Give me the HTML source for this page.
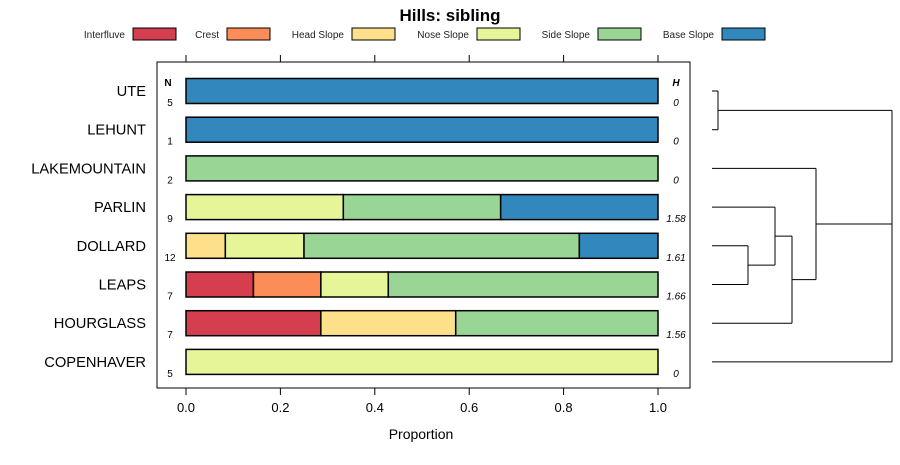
<!DOCTYPE html>
<html><head><meta charset="utf-8"><style>
body{margin:0;background:#fff}
svg text{font-family:"Liberation Sans",sans-serif}
</style></head><body>
<svg id="c" width="900" height="460" xmlns="http://www.w3.org/2000/svg">
<text x="450" y="21" text-anchor="middle" font-size="17" font-weight="bold">Hills: sibling</text>
<g id="legend"></g>
<rect x="157" y="62" width="533" height="326" fill="none" stroke="#000"/>
<g id="bars"></g>
<g id="axis"></g>
<text x="421" y="439" text-anchor="middle" font-size="14">Proportion</text>
<text x="168" y="86" font-size="10" font-weight="bold" text-anchor="middle">N</text>
<text x="676" y="86" font-size="10" font-weight="bold" font-style="italic" text-anchor="middle">H</text>
<g id="dend" stroke="#000" stroke-width="1" fill="none"></g>
</svg>
<script>
const categories=["UTE","LEHUNT","LAKEMOUNTAIN","PARLIN","DOLLARD","LEAPS","HOURGLASS","COPENHAVER"];
const classes=["Interfluve","Crest","Head Slope","Nose Slope","Side Slope","Base Slope"];
const colors=["#D53E4F","#FC8D59","#FEE08B","#E6F598","#99D594","#3288BD"];
const counts=[5,1,2,9,12,7,7,5];
const hValues=["0","0","0","1.58","1.61","1.66","1.56","0"];
const interfluve=[0,0,0,0,0,1/7,2/7,0];
const crest=[0,0,0,0,0,1/7,0,0];
const headSlope=[0,0,0,0,1/12,0,2/7,0];
const noseSlope=[0,0,0,3/9,2/12,1/7,0,1];
const sideSlope=[0,0,1,3/9,7/12,4/7,3/7,0];
const baseSlope=[1,1,0,3/9,2/12,0,0,0];
const series=[interfluve,crest,headSlope,noseSlope,sideSlope,baseSlope];
const ticks=[0,0.2,0.4,0.6,0.8,1.0];
const ns="http://www.w3.org/2000/svg";
const X=v=>186+v*472;
const Y=i=>91+i*38.7;
function mk(t,a,p){const e=document.createElementNS(ns,t);for(const k in a)e.setAttribute(k,a[k]);p.appendChild(e);return e;}
const lg=document.getElementById('legend');
const legX=[133,227,352,477,598,722];
classes.forEach((c,i)=>{
 const t=mk('text',{x:legX[i]-8,y:38,'font-size':10,'text-anchor':'end',fill:'#222'},lg);t.textContent=c;
 
 
 const r=mk('rect',{x:legX[i],y:28,width:43,height:12,fill:colors[i],stroke:'#000'},lg);
 
 
});
const bg=document.getElementById('bars');
categories.forEach((cat,i)=>{
 const y=Y(i);let acc=0;
 series.forEach((s,j)=>{
  const v=s[i];if(v<=0)return;
  const r=mk('rect',{x:X(acc),y:y-12.5,width:X(acc+v)-X(acc),height:25,fill:colors[j],stroke:'#000','stroke-width':1.5},bg);
  
  
  acc+=v;
 });
 const l=mk('text',{x:146,y:y+5,'font-size':14.7,'text-anchor':'end'},bg);l.textContent=cat;
 
 
 const n=mk('text',{x:170,y:y+15,'font-size':10,'text-anchor':'middle'},bg);n.textContent=counts[i];
 
 
 const h=mk('text',{x:676,y:y+15,'font-size':10,'font-style':'italic','text-anchor':'middle'},bg);h.textContent=hValues[i];
 
 
});
const ax=document.getElementById('axis');
ticks.forEach(t=>{
 mk('line',{x1:X(t),x2:X(t),y1:388,y2:395,stroke:'#000'},ax);
 mk('line',{x1:X(t),x2:X(t),y1:62,y2:55,stroke:'#000'},ax);
 const tx=mk('text',{x:X(t),y:412,'font-size':13,'text-anchor':'middle'},ax);tx.textContent=t.toFixed(1);
 
 
});
const d=document.getElementById('dend');
function L(x1,y1,x2,y2){mk('line',{x1,y1,x2,y2},d);}
const y=Y;
L(712,y(0),718,y(0));L(712,y(1),718,y(1));L(718,y(0),718,y(1));
const a=(y(0)+y(1))/2;L(718,a,892,a);
L(712,y(4),748,y(4));L(712,y(5),748,y(5));L(748,y(4),748,y(5));
const b=(y(4)+y(5))/2;L(748,b,775,b);
L(712,y(3),775,y(3));L(775,y(3),775,b);
const c=(y(3)+b)/2;L(775,c,792,c);
L(712,y(6),792,y(6));L(792,c,792,y(6));
const e=(c+y(6))/2;L(792,e,816,e);
L(712,y(2),816,y(2));L(816,y(2),816,e);
const f=(y(2)+e)/2;L(816,f,892,f);
L(712,y(7),892,y(7));L(892,a,892,y(7));
</script>
</body></html>
